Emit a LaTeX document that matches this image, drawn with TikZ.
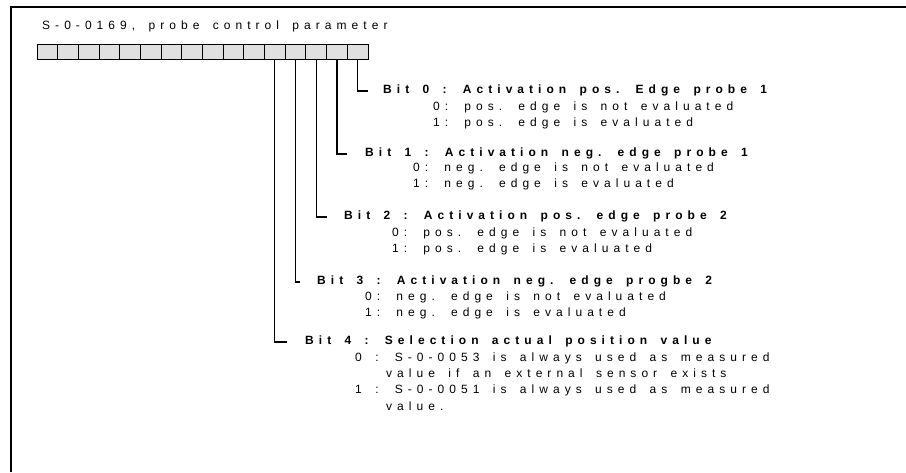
\documentclass[tikz,border=0pt]{standalone}
\usepackage{fontspec}
\setmainfont{Liberation Sans}[LetterSpace=42,WordSpace=1.6,BoldFeatures={LetterSpace=42}]
\definecolor{boxfill}{RGB}{224,224,224}
\begin{document}
\begin{tikzpicture}[x=1pt,y=-1pt,
  txt/.style={anchor=west,inner sep=0pt,text height=8.6pt,text depth=0pt,font=\fontsize{12}{14}\selectfont},
  ttl/.style={txt,font=\fontsize{12}{14}\selectfont\bfseries},
  bitbox/.style={draw,fill=boxfill,minimum width=20.69pt,minimum height=15pt,inner sep=0pt,line width=0.9pt},
  frame/.style={line width=2pt},
  conn/.style={line width=1.1pt}]
\useasboundingbox (0,0) rectangle (906,472);
\draw[frame] (11,472) -- (11,7) -- (906,7);
\node[txt] (title) at (42,25) {S-0-0169, probe control parameter};
\foreach \k in {0,...,15}
  \node[bitbox] (bit\k) at ({368-20.69*(\k+0.5)},51.5) {};
% connector ends
\coordinate (e0) at (368,91);
\coordinate (e1) at (347,154);
\coordinate (e2) at (327,217);
\coordinate (e3) at (300,282);
\coordinate (e4) at (287,342);
\draw[conn] (bit0.south) |- (e0);
\draw[conn] (bit1.south) |- (e1);
\draw[conn] (bit2.south) |- (e2);
\draw[conn] (bit3.south) |- (e3);
\draw[conn] (bit4.south) |- (e4);
% bit 0
\node[ttl] (t0) at (383,89.3) {Bit 0 : Activation pos. Edge probe 1};
\node[txt] (t0a) at (433,106) {0: pos. edge is not evaluated};
\node[txt] (t0b) at (433,121.7) {1: pos. edge is evaluated};
% bit 1
\node[ttl] (t1) at (365,151.7) {Bit 1 : Activation neg. edge probe 1};
\node[txt] (t1a) at (413,166.7) {0: neg. edge is not evaluated};
\node[txt] (t1b) at (413,182.7) {1: neg. edge is evaluated};
% bit 2
\node[ttl] (t2) at (344,215) {Bit 2 : Activation pos. edge probe 2};
\node[txt] (t2a) at (392,231.7) {0: pos. edge is not evaluated};
\node[txt] (t2b) at (392,248.3) {1: pos. edge is evaluated};
% bit 3
\node[ttl] (t3) at (317,280) {Bit 3 : Activation neg. edge progbe 2};
\node[txt] (t3a) at (365,296) {0: neg. edge is not evaluated};
\node[txt] (t3b) at (365,312.3) {1: neg. edge is evaluated};
% bit 4
\node[ttl] (t4) at (305,340) {Bit 4 : Selection actual position value};
\node[txt] (t4a) at (355,356.7) {0 : S-0-0053 is always used as measured};
\node[txt] (t4b) at (386,372.7) {value if an external sensor exists};
\node[txt] (t4c) at (355,389) {1 : S-0-0051 is always used as measured};
\node[txt] (t4d) at (386,405.7) {value.};
\end{tikzpicture}
\end{document}
